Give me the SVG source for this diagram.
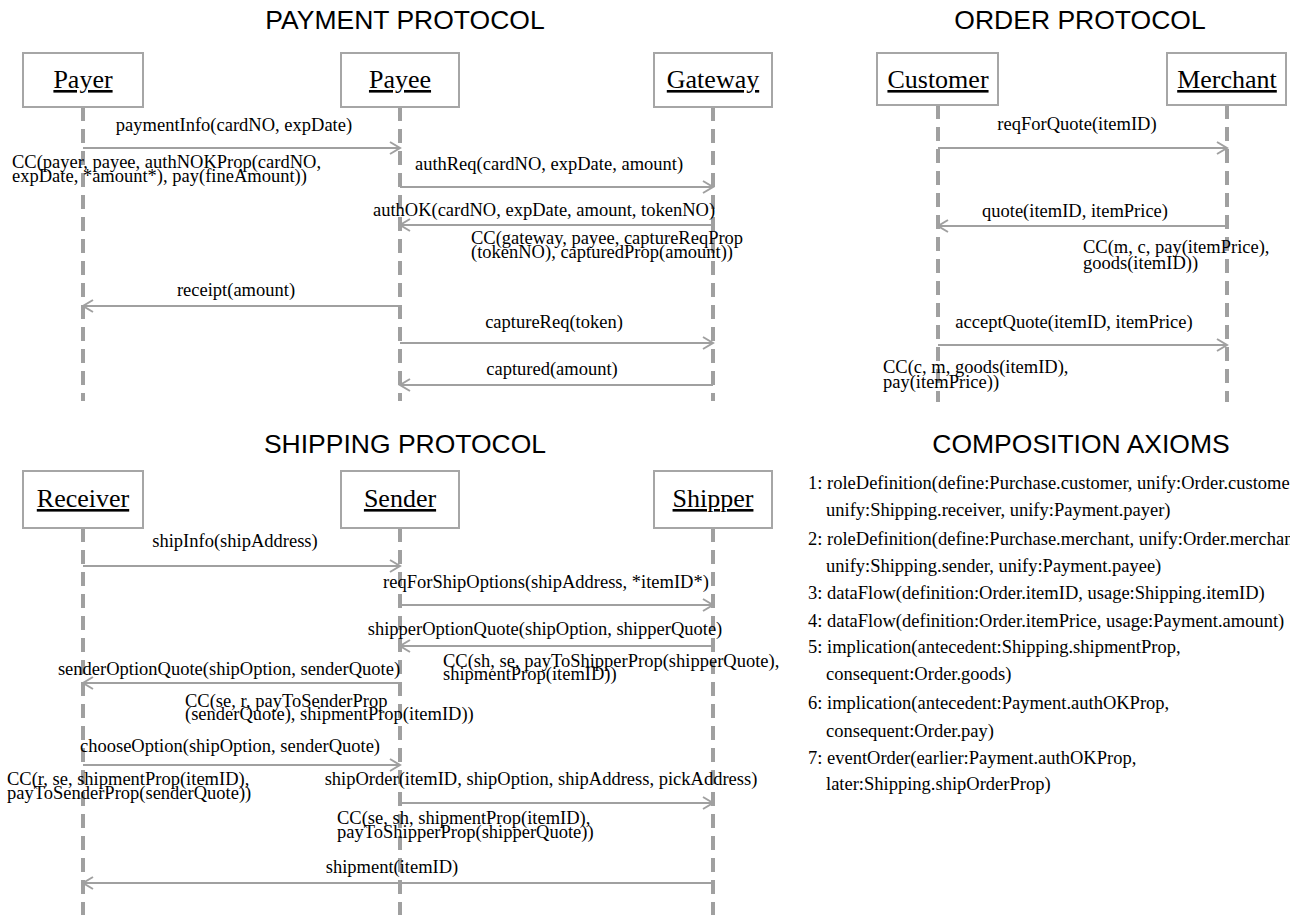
<svg xmlns="http://www.w3.org/2000/svg" width="1290" height="917" viewBox="0 0 1290 917">
<style>
.title{font-family:"Liberation Sans",Arial,sans-serif;font-size:26.5px;fill:#000;text-anchor:middle}
.box{fill:#fff;stroke:#a6a6a6;stroke-width:2}
.lbl{font-family:"Liberation Serif","Times New Roman",serif;font-size:26px;fill:#000;text-anchor:middle;text-decoration:underline}
.life{stroke:#a0a0a0;stroke-width:4;stroke-dasharray:14 8;fill:none}
.msg{stroke:#a0a0a0;stroke-width:2;fill:none;marker-end:url(#arr)}
.t{font-family:"Liberation Serif","Times New Roman",serif;font-size:18.5px;fill:#000}
.m{text-anchor:middle}
</style>
<defs>
<marker id="arr" markerWidth="14" markerHeight="14" refX="11" refY="7" orient="auto" markerUnits="userSpaceOnUse">
<path d="M1,1 L11,7 L1,13" fill="none" stroke="#a0a0a0" stroke-width="2"/>
</marker>
</defs>
<rect width="1290" height="917" fill="#fff"/>

<g id="titles">
<text class="title" x="405" y="29">PAYMENT PROTOCOL</text>
<text class="title" x="1080" y="29">ORDER PROTOCOL</text>
<text class="title" x="405" y="453">SHIPPING PROTOCOL</text>
<text class="title" x="1081" y="453">COMPOSITION AXIOMS</text>
</g>

<g id="payer"><line class="life" x1="83" y1="107" x2="83" y2="401"/><rect class="box" x="23" y="53" width="120" height="54"/><text class="lbl" x="83" y="88">Payer</text></g>
<g id="payee"><line class="life" x1="400" y1="107" x2="400" y2="401"/><rect class="box" x="341" y="53" width="118" height="54"/><text class="lbl" x="400" y="88">Payee</text></g>
<g id="gateway"><line class="life" x1="713" y1="107" x2="713" y2="401"/><rect class="box" x="654" y="53" width="118" height="54"/><text class="lbl" x="713" y="88">Gateway</text></g>
<g id="customer"><line class="life" x1="938" y1="105" x2="938" y2="402"/><rect class="box" x="877" y="53" width="121" height="52"/><text class="lbl" x="938" y="88">Customer</text></g>
<g id="merchant"><line class="life" x1="1227" y1="105" x2="1227" y2="402"/><rect class="box" x="1167" y="53" width="119" height="52"/><text class="lbl" x="1227" y="88">Merchant</text></g>
<g id="receiver"><line class="life" x1="83" y1="528" x2="83" y2="915"/><rect class="box" x="23" y="471" width="120" height="57"/><text class="lbl" x="83" y="507">Receiver</text></g>
<g id="sender"><line class="life" x1="400" y1="528" x2="400" y2="915"/><rect class="box" x="341" y="471" width="118" height="57"/><text class="lbl" x="400" y="507">Sender</text></g>
<g id="shipper"><line class="life" x1="713" y1="528" x2="713" y2="915"/><rect class="box" x="654" y="471" width="118" height="57"/><text class="lbl" x="713" y="507">Shipper</text></g>

<g id="connectors">
<line class="msg" x1="83" y1="148" x2="400" y2="148"/>
<text class="t m" x="234" y="131">paymentInfo(cardNO, expDate)</text>
<line class="msg" x1="400" y1="187" x2="713" y2="187"/>
<text class="t m" x="549" y="170">authReq(cardNO, expDate, amount)</text>
<line class="msg" x1="713" y1="225" x2="400" y2="225"/>
<text class="t m" x="544" y="216">authOK(cardNO, expDate, amount, tokenNO)</text>
<line class="msg" x1="400" y1="306" x2="83" y2="306"/>
<text class="t m" x="236" y="296">receipt(amount)</text>
<line class="msg" x1="400" y1="343" x2="713" y2="343"/>
<text class="t m" x="554" y="328">captureReq(token)</text>
<line class="msg" x1="713" y1="385" x2="400" y2="385"/>
<text class="t m" x="552" y="375">captured(amount)</text>

<line class="msg" x1="938" y1="148" x2="1227" y2="148"/>
<text class="t m" x="1077" y="130">reqForQuote(itemID)</text>
<line class="msg" x1="1227" y1="226" x2="938" y2="226"/>
<text class="t m" x="1075" y="217">quote(itemID, itemPrice)</text>
<line class="msg" x1="938" y1="345" x2="1227" y2="345"/>
<text class="t m" x="1074" y="328">acceptQuote(itemID, itemPrice)</text>

<line class="msg" x1="83" y1="566" x2="400" y2="566"/>
<text class="t m" x="235" y="547">shipInfo(shipAddress)</text>
<line class="msg" x1="400" y1="605" x2="713" y2="605"/>
<text class="t m" x="546" y="588">reqForShipOptions(shipAddress, *itemID*)</text>
<line class="msg" x1="713" y1="646" x2="400" y2="646"/>
<text class="t m" x="545" y="635">shipperOptionQuote(shipOption, shipperQuote)</text>
<line class="msg" x1="400" y1="683" x2="83" y2="683"/>
<text class="t m" x="229" y="675">senderOptionQuote(shipOption, senderQuote)</text>
<line class="msg" x1="83" y1="765" x2="400" y2="765"/>
<text class="t m" x="230" y="752">chooseOption(shipOption, senderQuote)</text>
<line class="msg" x1="400" y1="803" x2="713" y2="803"/>
<text class="t m" x="541" y="785">shipOrder(itemID, shipOption, shipAddress, pickAddress)</text>
<line class="msg" x1="713" y1="883" x2="83" y2="883"/>
<text class="t m" x="392" y="873">shipment(itemID)</text>
</g>

<g id="commitments">
<text class="t" x="12" y="168">CC(payer, payee, authNOKProp(cardNO,<tspan x="12" dy="14">expDate, *amount*), pay(fineAmount))</tspan></text>
<text class="t" x="471" y="244">CC(gateway, payee, captureReqProp<tspan x="471" dy="14">(tokenNO), capturedProp(amount))</tspan></text>
<text class="t" x="1083" y="253">CC(m, c, pay(itemPrice),<tspan x="1083" dy="16">goods(itemID))</tspan></text>
<text class="t" x="883" y="373">CC(c, m, goods(itemID),<tspan x="883" dy="15">pay(itemPrice))</tspan></text>
<text class="t" x="443" y="667">CC(sh, se, payToShipperProp(shipperQuote),<tspan x="443" dy="13">shipmentProp(itemID))</tspan></text>
<text class="t" x="185" y="707">CC(se, r, payToSenderProp<tspan x="185" dy="13">(senderQuote), shipmentProp(itemID))</tspan></text>
<text class="t" x="7" y="785">CC(r, se, shipmentProp(itemID),<tspan x="7" dy="14">payToSenderProp(senderQuote))</tspan></text>
<text class="t" x="337" y="824">CC(se, sh, shipmentProp(itemID),<tspan x="337" dy="14">payToShipperProp(shipperQuote))</tspan></text>
</g>

<g id="axioms">
<text class="t" x="808" y="489">1: roleDefinition(define:Purchase.customer, unify:Order.customer,</text>
<text class="t" x="826" y="516">unify:Shipping.receiver, unify:Payment.payer)</text>
<text class="t" x="808" y="545">2: roleDefinition(define:Purchase.merchant, unify:Order.merchant,</text>
<text class="t" x="826" y="572">unify:Shipping.sender, unify:Payment.payee)</text>
<text class="t" x="808" y="599">3: dataFlow(definition:Order.itemID, usage:Shipping.itemID)</text>
<text class="t" x="808" y="627">4: dataFlow(definition:Order.itemPrice, usage:Payment.amount)</text>
<text class="t" x="808" y="653">5: implication(antecedent:Shipping.shipmentProp,</text>
<text class="t" x="826" y="680">consequent:Order.goods)</text>
<text class="t" x="808" y="709">6: implication(antecedent:Payment.authOKProp,</text>
<text class="t" x="826" y="737">consequent:Order.pay)</text>
<text class="t" x="808" y="764">7: eventOrder(earlier:Payment.authOKProp,</text>
<text class="t" x="826" y="790">later:Shipping.shipOrderProp)</text>
</g>
</svg>
